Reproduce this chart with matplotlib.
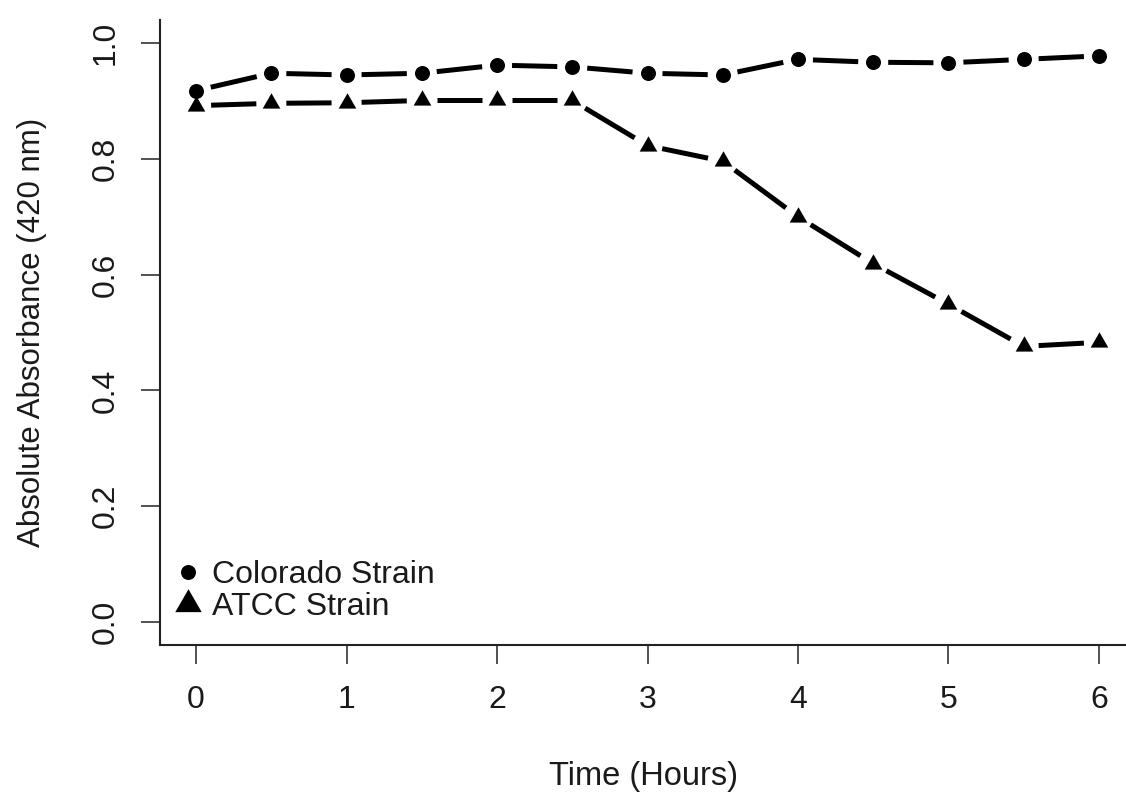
import numpy as np
import matplotlib
matplotlib.use("Agg")
import matplotlib.pyplot as plt
from matplotlib.lines import Line2D

# ---- data ----
hours = [0, 0.5, 1, 1.5, 2, 2.5, 3, 3.5, 4, 4.5, 5, 5.5, 6]
colorado = [0.918, 0.948, 0.945, 0.948, 0.962, 0.959, 0.948, 0.945, 0.972, 0.967, 0.966, 0.972, 0.978]
atcc = [0.892, 0.896, 0.897, 0.901, 0.901, 0.901, 0.823, 0.796, 0.700, 0.619, 0.549, 0.476, 0.483]
series_labels = ["Colorado Strain", "ATCC Strain"]
x_ticks = [0, 1, 2, 3, 4, 5, 6]
y_ticks = [0.0, 0.2, 0.4, 0.6, 0.8, 1.0]
x_label = "Time (Hours)"
y_label = "Absolute Absorbance (420 nm)"

plt.rcParams['font.family'] = ['Liberation Sans', 'DejaVu Sans']
FS = 23
TXT = '#1a1a1a'

DPI = 100
W, H = 1126, 800
fig = plt.figure(figsize=(W / DPI, H / DPI), dpi=DPI)
L, R, T, B = 160, 1135, 20, 645
ax = fig.add_axes([L / W, (H - B) / H, (R - L) / W, (B - T) / H])

ax.set_xlim(-0.24, 6.24)
ax.set_ylim(-0.04, 1.04)

# R pch 17 style triangle (centroid centred)
tri = [(0, 1.5551), (1.3468, -0.7776), (-1.3468, -0.7776), (0, 1.5551)]

GAP = 15  # px gap around points (type="b")


def gapped_segments(xs, ys):
    pts = ax.transData.transform(np.column_stack([xs, ys]))
    inv = ax.transData.inverted()
    for p0, p1 in zip(pts[:-1], pts[1:]):
        d = p1 - p0
        n = np.hypot(*d)
        if n <= 2 * GAP:
            continue
        u = d / n
        a = inv.transform(p0 + u * GAP)
        b = inv.transform(p1 - u * GAP)
        ax.plot([a[0], b[0]], [a[1], b[1]], color='black', lw=3.6,
                solid_capstyle='butt', zorder=2)


gapped_segments(hours, colorado)
gapped_segments(hours, atcc)
ax.plot(hours, atcc, linestyle='none', marker=tri, markersize=14.7,
        color='black', markeredgewidth=0, zorder=3)
ax.plot(hours, colorado, linestyle='none', marker='o', markersize=10.8,
        color='black', markeredgewidth=0, zorder=4)

# axes style (R bty="l")
for s in ['top', 'right']:
    ax.spines[s].set_visible(False)
for s in ['left', 'bottom']:
    ax.spines[s].set_linewidth(1.5)
    ax.spines[s].set_color('#222222')
ax.set_xticks(x_ticks)
ax.set_xticklabels([str(v) for v in x_ticks])
ax.set_yticks(y_ticks)
ax.set_yticklabels([f"{v:.1f}" for v in y_ticks])
ax.tick_params(axis='both', length=13.5, width=1.1, labelsize=FS, pad=15,
               color='#222222', labelcolor=TXT)
ax.tick_params(axis='y', labelrotation=90)
for t in ax.get_yticklabels():
    t.set_va('center')

ax.set_xlabel(x_label, fontsize=FS + 0.5, color=TXT)
ax.set_ylabel(y_label, fontsize=FS - 0.5, va='center', color=TXT)
ax.xaxis.set_label_coords(0.496, -0.186)
ax.yaxis.set_label_coords(-0.131, 0.5)

handles = [
    Line2D([], [], linestyle='none', marker='o', markersize=10.8, color='black', markeredgewidth=0),
    Line2D([], [], linestyle='none', marker=tri, markersize=22, color='black', markeredgewidth=0),
]
leg = ax.legend(handles, series_labels, loc='lower left',
                bbox_to_anchor=((172 - L) / (R - L), (B - 622) / (B - T)),
                frameon=False, fontsize=FS, handlelength=1.0, handletextpad=0.25,
                labelspacing=0.05, borderpad=0, borderaxespad=0)
for t in leg.get_texts():
    t.set_color(TXT)

fig.savefig("out.png", dpi=DPI)
